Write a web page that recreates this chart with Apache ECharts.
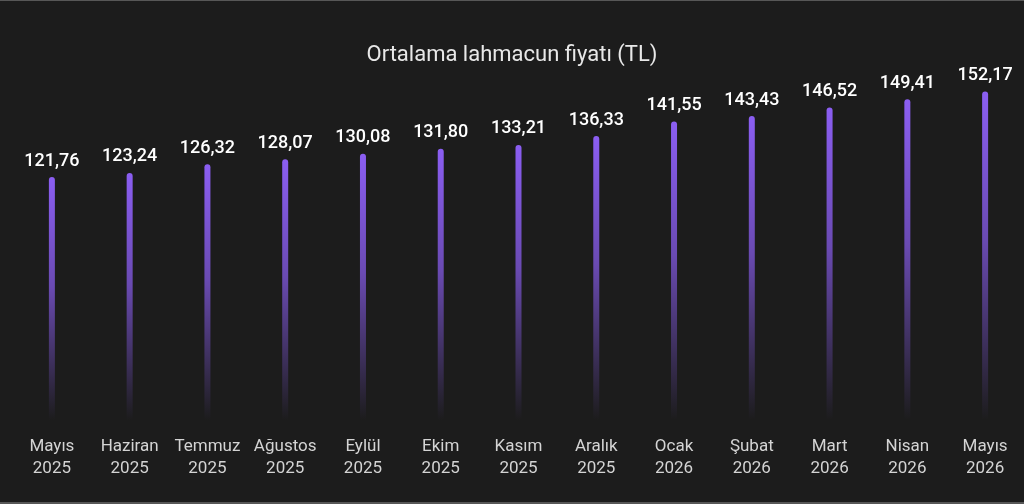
<!DOCTYPE html>
<html>
<head>
<meta charset="utf-8">
<script src="https://cdn.jsdelivr.net/npm/echarts@6/dist/echarts.min.js"></script>
<style>
    html, body {margin: 0; padding: 0; background: #1c1c1c;}
    #chart {width: 1024px; height: 504px; box-sizing: border-box; border-top: 1px solid #575757; border-bottom: 2px solid #575757;}
</style>
</head>
<body>
<div id="chart"></div>
<script>
// aylar (kategori)
var aMonths = ['Mayıs', 'Haziran', 'Temmuz', 'Ağustos', 'Eylül', 'Ekim', 'Kasım', 'Aralık', 'Ocak', 'Şubat', 'Mart', 'Nisan', 'Mayıs'];
var aYears = ['2025', '2025', '2025', '2025', '2025', '2025', '2025', '2025', '2026', '2026', '2026', '2026', '2026'];
// ortalama fiyat (TL)
var aPrices = [121.76, 123.24, 126.32, 128.07, 130.08, 131.80, 133.21, 136.33, 141.55, 143.43, 146.52, 149.41, 152.17];

var aCategories = [];
for (var i = 0; i < aMonths.length; i++) {
    aCategories.push(aMonths[i] + '\n' + aYears[i]);
}

function SetOption(sTagID) {
    var oChart = echarts.init(document.getElementById(sTagID));
    var jOption = {
        backgroundColor: '#1c1c1c',
        title: {
            text: 'Ortalama lahmacun fiyatı (TL)',
            left: 'center',
            top: 38,
            textStyle: {color: '#e8e8e8', fontSize: 22, fontWeight: 'normal', fontFamily: 'Roboto'}
        },
        grid: {left: 13, right: 0, top: 60, bottom: 82},
        xAxis: {
            type: 'category',
            data: aCategories,
            axisLine: {show: false},
            axisTick: {show: false},
            axisLabel: {color: '#d4d4d4', fontSize: 17, lineHeight: 22, margin: 16, fontFamily: 'Roboto', interval: 0}
        },
        yAxis: {
            type: 'value',
            min: 35.5,
            max: 163,
            show: false,
            splitLine: {show: false}
        },
        series: [{
            type: 'bar',
            data: aPrices,
            barWidth: 6,
            itemStyle: {
                borderRadius: [3, 3, 0, 0],
                color: new echarts.graphic.LinearGradient(0, 0, 0, 1, [
                    {offset: 0, color: 'rgba(139, 94, 242, 1)'},
                    {offset: 0.45, color: 'rgba(139, 94, 242, 0.7)'},
                    {offset: 1, color: 'rgba(139, 94, 242, 0)'}
                ])
            },
            label: {
                show: true,
                position: 'top',
                distance: 7,
                color: '#ffffff',
                fontSize: 18,
                fontWeight: 500,
                fontFamily: 'Roboto',
                formatter: function (p) {
                    return p.value.toFixed(2).replace('.', ',');
                }
            }
        }]
    };
    oChart.setOption(jOption);
    return oChart;
}

SetOption('chart');
</script>
</body>
</html>
